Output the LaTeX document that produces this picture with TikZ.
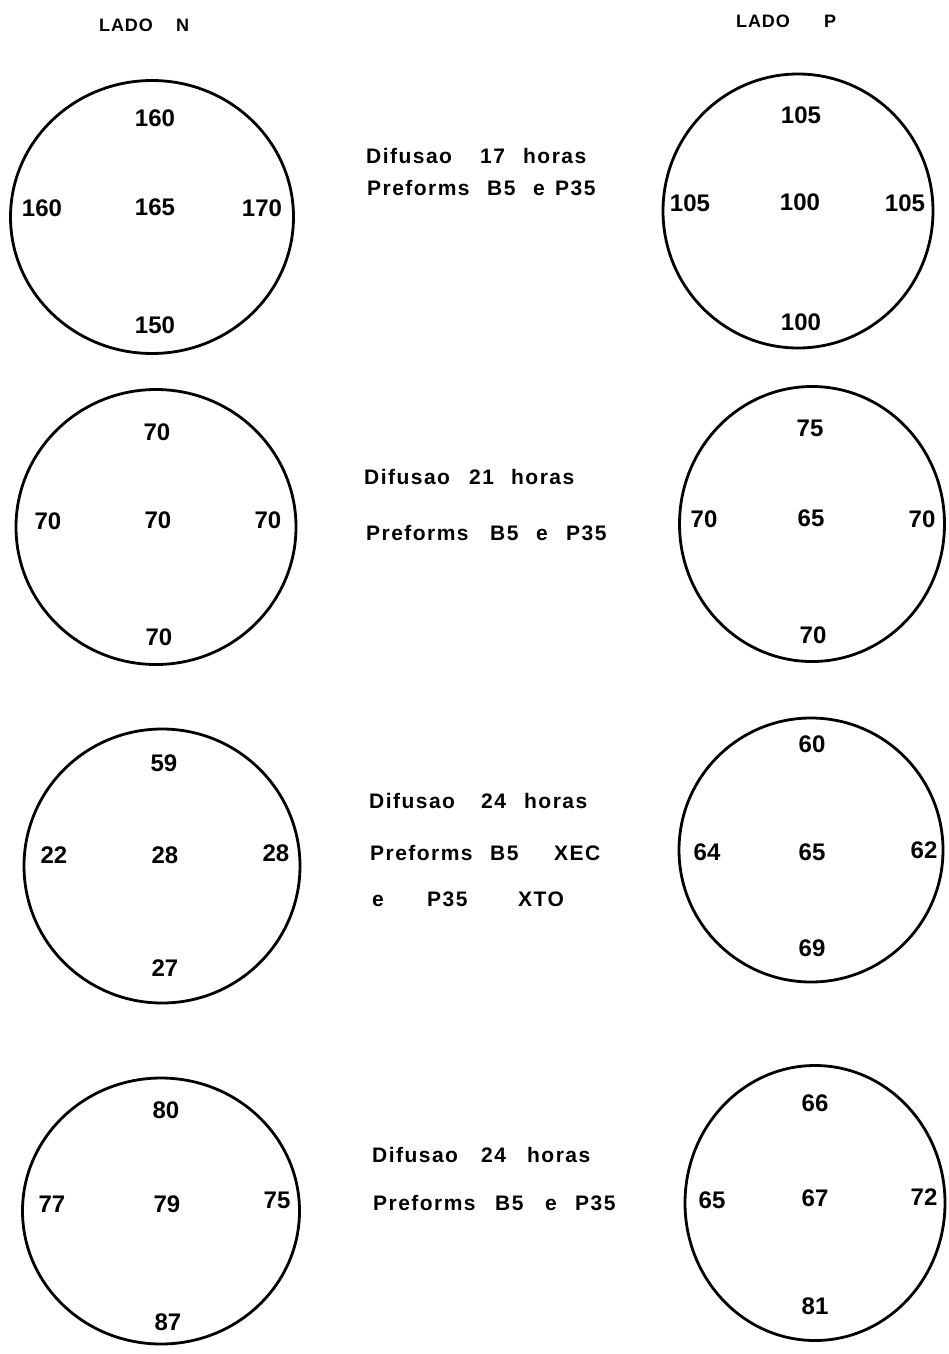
\documentclass[tikz,border=0pt]{standalone}
\usepackage{fontspec}
\usetikzlibrary{shapes.geometric}
\setmainfont{Liberation Sans}
% one word of a caption line, set in a box of given width
\newcommand{\wbox}[2]{\makebox[#1pt][l]{#2}}
\begin{document}
\begin{tikzpicture}[x=1pt,y=-1pt,
  ring/.style={draw, ellipse, line width=2.8pt, inner sep=0pt},
  val/.style={font=\fontsize{24}{24}\selectfont\bfseries},
  captxt/.style={anchor=west, inner sep=0pt,
    font=\fontsize{21}{21}\selectfont\bfseries\addfontfeatures{LetterSpace=7}},
  head/.style={anchor=west, inner sep=0pt,
    font=\fontsize{18}{18}\selectfont\bfseries\addfontfeatures{LetterSpace=5}}]
\useasboundingbox (0,0) rectangle (949,1354);

% column headings
\node[head] (hN) at (99,25) {\wbox{77}{LADO}N};
\node[head] (hP) at (736,21) {\wbox{88}{LADO}P};

% ---- row 1 ----
\node[ring, minimum width=283pt, minimum height=273pt] (cN1) at (152,217) {};
\node[val] (n1t) at (155,118) {160};
\node[val] (n1l) at (42,208) {160};
\node[val] (n1c) at (155,207) {165};
\node[val] (n1r) at (262,208) {170};
\node[val] (n1b) at (155,325) {150};

\node[ring, minimum width=270pt, minimum height=274pt] (cP1) at (798,211) {};
\node[val] (p1t) at (801,115) {105};
\node[val] (p1l) at (690,203) {105};
\node[val] (p1c) at (800,202) {100};
\node[val] (p1r) at (905,203) {105};
\node[val] (p1b) at (801,322) {100};

\node[captxt] (t1a) at (366,156) {\wbox{114}{Difusao}\wbox{43}{17}horas};
\node[captxt] (t1b) at (367,188) {\wbox{120}{Preforms}\wbox{46}{B5}\wbox{22}{e}P35};

% ---- row 2 ----
\node[ring, minimum width=280pt, minimum height=275pt] (cN2) at (156,527) {};
\node[val] (n2t) at (157,432) {70};
\node[val] (n2l) at (48,521) {70};
\node[val] (n2c) at (158,520) {70};
\node[val] (n2r) at (268,520) {70};
\node[val] (n2b) at (159,637) {70};

\node[ring, minimum width=265pt, minimum height=275pt] (cP2) at (812,524) {};
\node[val] (p2t) at (810,428) {75};
\node[val] (p2l) at (704,519) {70};
\node[val] (p2c) at (811,518) {65};
\node[val] (p2r) at (922,519) {70};
\node[val] (p2b) at (813,635) {70};

\node[captxt] (t2a) at (364,477) {\wbox{105}{Difusao}\wbox{42}{21}horas};
\node[captxt] (t2b) at (366,533) {\wbox{124}{Preforms}\wbox{46}{B5}\wbox{30}{e}P35};

% ---- row 3 ----
\node[ring, minimum width=276pt, minimum height=274pt] (cN3) at (162,866) {};
\node[val] (n3t) at (164,763) {59};
\node[val] (n3l) at (54,855) {22};
\node[val] (n3c) at (165,855) {28};
\node[val] (n3r) at (276,853) {28};
\node[val] (n3b) at (165,968) {27};

\node[ring, minimum width=264pt, minimum height=264pt] (cP3) at (811,850) {};
\node[val] (p3t) at (812,744) {60};
\node[val] (p3l) at (707,852) {64};
\node[val] (p3c) at (812,852) {65};
\node[val] (p3r) at (924,850) {62};
\node[val] (p3b) at (812,948) {69};

\node[captxt] (t3a) at (369,801) {\wbox{112}{Difusao}\wbox{43}{24}horas};
\node[captxt] (t3b) at (370,853) {\wbox{120}{Preforms}\wbox{64}{B5}XEC};
\node[captxt] (t3c) at (372,899) {\wbox{55}{e}\wbox{91}{P35}XTO};

% ---- row 4 ----
\node[ring, minimum width=277pt, minimum height=266pt] (cN4) at (161,1211) {};
\node[val] (n4t) at (166,1110) {80};
\node[val] (n4l) at (52,1204) {77};
\node[val] (n4c) at (167,1204) {79};
\node[val] (n4r) at (277,1200) {75};
\node[val] (n4b) at (168,1322) {87};

\node[ring, minimum width=260pt, minimum height=275pt] (cP4) at (815,1203) {};
\node[val] (p4t) at (815,1103) {66};
\node[val] (p4l) at (712,1200) {65};
\node[val] (p4c) at (815,1198) {67};
\node[val] (p4r) at (924,1197) {72};
\node[val] (p4b) at (815,1306) {81};

\node[captxt] (t4a) at (372,1155) {\wbox{109}{Difusao}\wbox{46}{24}horas};
\node[captxt] (t4b) at (373,1203) {\wbox{122}{Preforms}\wbox{50}{B5}\wbox{30}{e}P35};
\end{tikzpicture}
\end{document}
